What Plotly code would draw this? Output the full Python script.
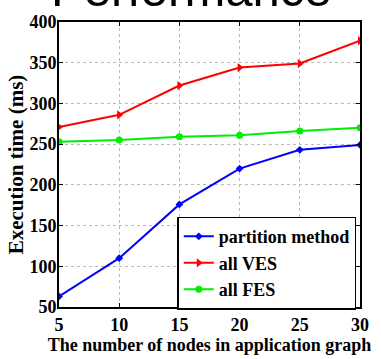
import plotly.graph_objects as go

nodes = [5, 10, 15, 20, 25, 30]
partition = [63, 110, 176, 220, 243, 249]
all_ves = [271, 286, 322, 344, 349, 377]
all_fes = [253, 255, 259, 261, 266, 270]

serif = "Liberation Serif"

fig = go.Figure()
fig.add_trace(go.Scatter(x=nodes, y=partition, name="partition method", mode="lines+markers",
                         line=dict(color="#0000ff", width=2), marker=dict(symbol="diamond", size=6, color="#0000ff")))
fig.add_trace(go.Scatter(x=nodes, y=all_ves, name="all VES", mode="lines+markers",
                         line=dict(color="#ff0000", width=2), marker=dict(symbol="triangle-right", size=8, color="#ff0000")))
fig.add_trace(go.Scatter(x=nodes, y=all_fes, name="all FES", mode="lines+markers",
                         line=dict(color="#00ee00", width=2), marker=dict(symbol="circle", size=7, color="#00ee00")))

axis_common = dict(showline=True, linecolor="black", linewidth=2, mirror="ticks", ticks="inside",
                   ticklen=4, tickcolor="black", showgrid=True, gridcolor="#bbbbbb", griddash="dot",
                   gridwidth=1, zeroline=False,
                   tickfont=dict(family=serif, size=18, color="black", weight="bold"))

fig.update_xaxes(range=[5, 30], tickvals=nodes, **axis_common,
                 title=dict(text="The number of nodes in application graph",
                            font=dict(family=serif, size=18, color="black", weight="bold"), standoff=0))
fig.update_yaxes(range=[50, 400], tickvals=[50, 100, 150, 200, 250, 300, 350, 400], **axis_common,
                 ticklabelstandoff=-3,
                 title=dict(text="Execution time (ms)",
                            font=dict(family=serif, size=21, color="black", weight="bold"), standoff=0))

fig.add_annotation(text="Performance", xref="paper", yref="paper", x=0.44, y=1.0, yanchor="bottom",
                   xanchor="center", showarrow=False, yshift=4,
                   font=dict(family="Liberation Sans", size=49, color="black"))

fig.update_layout(width=381, height=359, autosize=False,
                  margin=dict(l=59, r=16, t=15, b=52),
                  plot_bgcolor="white", paper_bgcolor="white",
                  showlegend=True,
                  legend=dict(x=0.393, y=0.317, xanchor="left", yanchor="top",
                              bordercolor="black", borderwidth=1.5, bgcolor="white",
                              font=dict(family=serif, size=18, color="black", weight="bold"),
                              itemwidth=30, tracegroupgap=0))

fig.write_html("out.html")
